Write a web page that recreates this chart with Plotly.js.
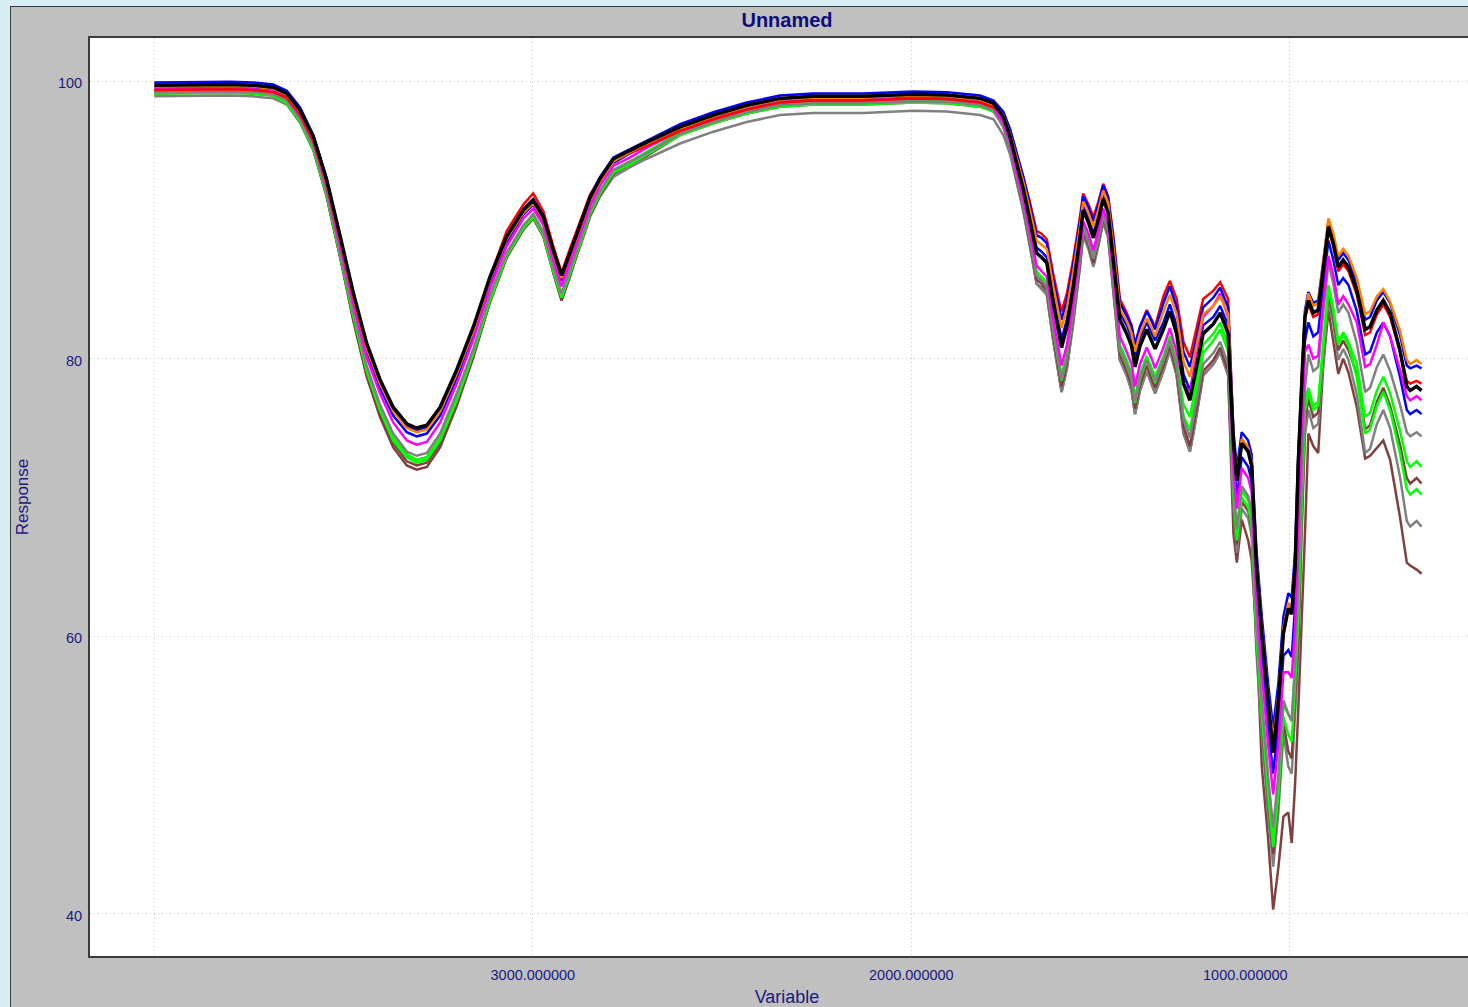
<!DOCTYPE html>
<html>
<head>
<meta charset="utf-8">
<title>Unnamed</title>
<script src="https://cdn.plot.ly/plotly-3.0.1.min.js"></script>
<style>
  html, body { margin: 0; padding: 0; overflow: hidden; background: #d7eef4; width: 1468px; height: 1007px; }
  #frame { position: absolute; left: 10px; top: 6px; border-left: 1px solid #3a3a3a; border-top: 1px solid #3a3a3a; }
  #chart { width: 1473px; height: 1000px; }
</style>
</head>
<body>
<div id="frame"><div id="chart"></div></div>
<script>
// Wavenumber grid (cm-1), shared by every spectrum
const wavenumber = [4000,3900,3800,3740,3686,3650,3615,3580,3545,3509,
  3474,3439,3404,3369,3333,3307,3280,3245,3201,3157,
  3113,3069,3025,2999,2972,2946,2924,2902,2867,2849,
  2822,2787,2743,2699,2611,2523,2435,2347,2259,2127,
  1995,1906,1818,1783,1757,1739,1722,1704,1687,1669,
  1656,1642,1625,1607,1603,1589,1572,1554,1546,1532,
  1519,1506,1493,1480,1466,1449,1431,1418,1409,1396,
  1378,1365,1356,1334,1317,1299,1281,1264,1251,1229,
  1202,1184,1163,1149,1140,1127,1110,1101,1088,1074,
  1057,1044,1030,1017,1004,995,986,978,969,960,
  951,938,925,912,898,885,872,859,845,823,
  801,788,770,753,735,709,691,682,665,652];

// Response of each sample (% transmittance)
const sampleBlack = [99.7,99.75,99.75,99.7,99.55,99.1,97.9,96.0,92.9,88.8,
  84.7,81.1,78.5,76.5,75.3,75.0,75.2,76.5,79.2,82.3,
  85.9,88.8,90.7,91.4,90.2,87.8,86.0,87.6,90.2,91.6,
  93.0,94.4,95.0,95.6,96.7,97.55,98.25,98.75,98.9,98.9,
  99.05,99.0,98.75,98.4,97.4,96.0,94.1,92.2,90.0,87.6,
  87.3,86.9,84.0,81.3,80.8,82.3,85.2,88.8,90.7,89.8,
  88.7,90.0,91.5,90.5,87.1,82.8,81.8,80.9,79.4,80.9,
  82.1,81.3,80.7,82.1,83.4,81.8,78.2,77.0,78.7,81.8,
  82.5,83.3,81.8,74.0,71.2,73.9,73.3,72.3,65.0,60.2,
  55.2,51.6,55.4,60.2,62.0,61.6,65.0,72.2,78.0,83.0,
  84.2,83.3,83.5,86.6,89.5,88.3,86.6,87.1,86.6,84.9,
  82.1,82.3,83.5,84.2,83.3,80.6,78.0,77.7,78.0,77.7];

const sampleOrange = [99.6,99.65,99.65,99.6,99.45,
  99.0,97.8,95.9,92.7,88.6,84.5,80.8,78.2,76.2,75.0,74.7,74.9,76.2,78.9,82.0,85.7,88.6,90.5,91.2,90.0,87.6,85.8,87.4,90.0,91.4,92.8,94.2,94.9,95.5,
  96.6,97.45,98.15,98.65,98.8,98.8,98.95,98.9,98.65,98.3,
  97.5,96.2,94.5,92.7,90.7,88.5,88.2,87.9,85.2,82.7,82.2,83.6,86.3,89.6,91.3,90.5,89.5,90.7,92.1,91.2,88.0,83.6,82.7,81.8,80.5,81.8,82.9,82.2,81.6,83.4,84.6,83.2,79.8,78.7,80.3,83.2,83.8,84.5,83.2,
  74.3,71.5,74.2,73.6,72.6,65.4,60.6,55.6,52.5,55.8,60.6,62.4,62.0,65.4,72.5,78.2,83.2,
  84.7,83.8,84.0,87.0,90.1,89.0,87.4,87.9,87.4,85.8,83.2,83.4,84.5,85.0,84.1,82.0,79.9,79.6,79.9,79.6];

const sampleBlue = [99.9,99.95,99.95,99.9,99.75,
  99.3,98.1,96.1,93.0,88.8,84.7,81.0,78.4,76.4,75.1,74.8,75.0,76.4,79.1,82.2,85.9,88.8,90.8,91.5,90.3,87.8,86.0,87.6,90.3,91.7,93.1,94.5,95.1,95.7,
  96.9,97.75,98.45,98.95,99.1,99.1,99.25,99.2,98.95,98.6,
  97.8,96.5,94.8,93.1,91.1,88.9,88.7,88.3,85.7,83.3,82.8,84.2,86.8,90.0,91.7,90.9,89.9,91.1,92.5,91.6,88.5,84.0,83.1,82.3,81.0,82.3,83.4,82.7,82.1,84.0,85.2,83.7,80.5,79.4,80.9,83.7,84.4,85.1,83.7,
  74.8,72.1,74.7,74.1,73.1,66.1,61.4,56.5,53.4,56.7,61.4,63.1,62.8,66.1,73.0,78.7,83.5,
  84.8,84.0,84.2,87.1,89.9,88.8,87.1,87.6,87.1,85.5,82.8,83.0,84.2,84.8,84.0,81.7,79.5,79.3,79.5,79.3];

const sampleRed = [99.35,99.4,99.4,99.35,99.2,
  98.8,97.6,95.7,92.6,88.5,84.4,80.8,78.3,76.3,75.1,74.8,75.0,76.3,79.0,82.1,85.9,89.2,91.1,91.9,90.6,88.1,86.2,87.9,90.5,91.8,93.0,94.3,94.8,95.35,
  96.4,97.25,97.95,98.45,98.6,98.6,98.75,98.7,98.45,98.1,
  97.7,96.5,94.8,93.2,91.3,89.2,89.0,88.6,86.1,83.8,83.4,84.7,87.2,90.3,91.9,91.1,90.2,91.3,92.6,91.7,88.8,84.3,83.3,82.4,81.0,82.3,83.5,82.8,82.3,84.5,85.6,84.3,81.2,80.1,81.6,84.3,84.9,85.5,84.3,
  74.3,71.5,74.2,73.6,72.6,65.0,60.2,55.2,52.0,55.4,60.2,62.0,61.6,65.0,72.2,78.0,83.0,
  83.9,83.0,83.2,86.3,89.3,88.1,86.3,86.8,86.3,84.6,81.7,81.9,83.2,83.9,83.0,80.5,78.4,78.2,78.4,78.2];

const sampleMagenta = [99.4,99.45,99.45,99.4,99.25,
  98.8,97.5,95.6,92.4,88.1,83.9,80.1,77.5,75.4,74.1,73.8,74.0,75.4,78.2,81.4,85.1,88.1,90.1,90.8,89.6,87.1,85.2,86.9,89.6,91.0,92.5,93.9,94.5,95.2,
  96.4,97.25,97.95,98.45,98.6,98.6,98.75,98.7,98.45,98.1,
  97.0,95.6,93.5,91.5,89.2,86.7,86.3,85.9,82.8,80.0,79.5,81.0,84.1,87.9,89.9,89.0,87.8,89.2,90.8,89.7,86.1,81.6,80.5,79.6,78.0,79.6,80.8,80.0,79.3,80.8,82.2,80.5,78.2,77.5,79.6,83.0,83.8,84.7,83.0,
  72.2,69.2,72.1,71.4,70.4,62.6,57.4,52.1,48.6,52.3,57.4,57.4,57.0,60.8,68.0,74.7,80.5,
  81.0,80.0,80.2,83.9,87.4,86.0,83.9,84.5,83.9,82.6,79.4,79.6,81.0,82.6,81.6,79.2,77.3,77.0,77.3,77.0];

const sampleBlue2 = [99.55,99.6,99.6,99.55,99.4,
  98.9,97.7,95.8,92.6,88.4,84.2,80.6,77.9,75.9,74.7,74.4,74.6,75.9,78.6,81.8,85.5,88.4,90.4,91.1,89.9,87.4,85.6,87.2,89.9,91.3,92.7,94.1,94.8,95.4,
  96.55,97.4,98.1,98.6,98.75,98.75,98.9,98.85,98.6,98.25,
  97.5,96.1,94.3,92.4,90.3,88.0,87.7,87.3,84.5,81.9,81.4,82.8,85.6,89.1,91.0,90.1,89.0,90.3,91.8,90.8,87.5,83.3,82.4,81.5,80.0,81.5,82.6,81.9,81.3,82.6,83.9,82.4,78.9,77.7,79.3,82.4,83.0,83.8,82.4,
  73.0,70.0,72.9,72.2,71.2,63.6,58.6,53.4,50.1,53.6,58.6,59.0,58.5,62.2,69.4,75.8,81.3,
  82.6,81.6,81.9,85.3,88.5,87.1,85.3,85.8,85.3,83.4,80.3,80.5,81.9,82.6,81.6,78.7,76.3,76.0,76.3,76.0];

const sampleGrey = [99.2,99.25,99.25,99.2,99.05,
  98.6,97.3,95.3,92.0,87.6,83.3,79.5,76.7,74.6,73.3,73.0,73.2,74.6,77.5,80.7,84.6,87.6,89.6,90.4,89.1,86.6,84.7,86.4,89.1,90.6,92.1,93.6,94.2,94.8,
  96.2,97.05,97.75,98.25,98.4,98.4,98.55,98.5,98.25,97.9,
  96.7,95.2,93.1,91.0,88.6,86.0,85.6,85.2,82.0,79.0,78.5,80.1,83.3,87.3,89.4,88.4,87.2,88.6,90.3,89.2,85.4,80.7,79.6,78.6,76.9,78.6,79.9,79.0,78.4,79.9,81.3,79.6,75.6,74.3,76.2,79.6,80.4,81.2,79.6,
  70.9,67.7,70.8,70.1,69.0,60.8,55.4,49.8,46.2,50.1,55.4,54.4,53.9,58.0,63.9,71.4,77.9,
  80.3,79.1,79.4,83.3,86.9,85.4,83.3,83.9,83.3,81.1,77.6,77.9,79.4,80.3,79.1,76.7,74.7,74.4,74.7,74.4];

const sampleGreen = [99.3,99.35,99.35,99.3,99.15,
  98.6,97.3,95.3,92.0,87.6,83.2,79.3,76.5,74.3,73.1,72.7,72.9,74.3,77.2,80.6,84.4,87.6,89.6,90.4,89.1,86.5,84.6,86.3,89.1,90.6,92.1,93.6,94.2,94.9,
  96.3,97.15,97.85,98.35,98.5,98.5,98.65,98.6,98.35,98.0,
  97.0,95.5,93.4,91.3,88.9,86.3,85.9,85.5,82.3,79.3,78.8,80.4,83.6,87.6,89.7,88.7,87.5,88.9,90.6,89.5,85.7,81.0,79.9,78.9,77.2,78.9,80.2,79.3,78.7,80.2,81.6,79.9,76.7,75.8,77.8,81.0,81.8,82.6,81.0,
  70.6,67.5,70.5,69.8,68.7,60.5,55.0,49.4,45.8,49.6,55.0,54.4,53.9,58.0,62.5,70.3,77.0,
  77.9,76.6,76.9,81.2,85.3,83.6,81.2,81.9,81.2,79.6,75.8,76.1,77.7,78.7,77.5,74.8,72.6,72.2,72.6,72.2];

const sampleBrown = [99.1,99.15,99.15,99.1,98.95,
  98.4,97.1,95.1,91.7,87.3,82.8,78.9,76.1,73.9,72.6,72.3,72.5,73.9,76.8,80.2,84.1,87.3,89.3,90.1,88.8,86.2,84.2,86.0,88.8,90.3,91.8,93.3,94.0,94.6,
  96.1,96.95,97.65,98.15,98.3,98.3,98.45,98.4,98.15,97.8,
  96.8,95.2,93.0,90.9,88.4,85.7,85.4,84.9,81.6,78.6,78.0,79.7,83.0,87.0,89.2,88.2,86.9,88.4,90.1,89.0,85.1,80.3,79.1,78.1,76.4,78.1,79.5,78.6,77.9,79.5,80.9,79.1,75.1,73.7,75.6,79.1,79.9,80.8,79.1,
  69.8,66.6,69.7,69.0,67.9,59.4,53.8,48.0,44.3,48.3,53.8,51.7,51.2,55.6,59.7,68.1,75.4,
  77.1,75.8,76.1,80.6,84.8,83.0,80.6,81.3,80.6,78.9,74.9,75.2,76.9,77.9,76.6,73.8,71.4,71.0,71.4,71.0];

const sampleGreen2 = [99.1,99.15,99.15,99.1,98.95,
  98.4,97.1,95.1,91.8,87.4,83.0,79.1,76.3,74.1,72.9,72.5,72.7,74.1,77.0,80.4,84.2,87.4,89.4,90.2,88.9,86.3,84.4,86.1,88.9,90.4,91.9,93.4,94.0,94.7,
  96.1,96.95,97.65,98.15,98.3,98.3,98.45,98.4,98.15,97.8,
  97.0,95.4,93.3,91.2,88.7,86.0,85.7,85.2,82.0,79.0,78.4,80.1,83.3,87.4,89.5,88.5,87.2,88.7,90.4,89.3,85.5,80.6,79.5,78.5,76.8,78.5,79.9,79.0,78.3,79.9,81.3,79.5,75.9,74.8,76.9,80.4,81.3,82.1,80.5,
  70.1,66.9,70.0,69.3,68.1,59.8,54.2,48.5,44.8,48.7,54.2,52.9,52.4,56.6,61.1,69.2,76.2,
  77.6,76.3,76.6,81.0,85.1,83.4,81.0,81.7,81.0,78.6,74.6,74.9,76.6,77.6,76.3,73.2,70.6,70.2,70.6,70.2];

const sampleGrey2 = [98.9,98.95,98.95,98.9,98.75,
  98.3,97.0,95.0,91.7,87.3,83.0,79.2,76.4,74.3,73.0,72.7,72.9,74.3,77.2,80.4,84.3,87.3,89.3,90.1,88.8,86.3,84.4,86.1,88.7,90.2,91.7,93.1,93.8,94.4,
  95.5,96.35,97.05,97.55,97.7,97.7,97.85,97.8,97.55,97.25,
  96.1,94.7,92.8,90.6,88.1,85.4,85.0,84.6,81.3,78.2,77.6,79.3,82.6,86.7,88.9,87.9,86.6,88.1,89.8,88.7,84.8,79.9,78.8,77.7,76.0,77.7,79.1,78.2,77.5,79.1,80.6,78.8,74.7,73.3,75.2,78.8,79.6,80.5,78.8,
  69.3,66.0,69.2,68.5,67.3,58.7,53.0,47.1,43.4,47.4,53.0,50.6,50.1,54.5,58.3,67.0,74.5,
  76.3,75.0,75.3,79.9,84.3,82.5,79.9,80.7,79.9,77.4,73.2,73.5,75.3,76.3,75.0,71.5,68.3,67.9,68.3,67.9];

const sampleBrown2 = [99.2,99.25,99.25,99.2,99.05,
  98.7,97.4,95.3,91.8,87.3,82.7,78.7,75.8,73.6,72.3,72.0,72.2,73.6,76.6,80.1,84.1,87.3,89.4,90.2,88.8,86.2,84.2,85.9,88.8,90.4,91.9,93.5,94.2,94.8,
  96.3,97.15,97.85,98.35,98.5,98.5,98.65,98.6,98.35,98.0,
  96.7,95.1,92.9,90.7,88.2,85.4,85.1,84.6,81.3,78.2,77.6,79.3,82.7,86.8,89.0,88.0,86.7,88.2,89.9,88.8,84.9,79.9,78.8,77.7,76.0,77.7,79.1,78.2,77.5,79.1,80.6,78.8,74.6,73.3,75.2,78.8,79.6,80.5,78.8,
  67.4,65.3,68.4,66.9,65.5,60.2,50.6,45.3,40.3,43.4,47.0,47.3,45.1,49.4,54.5,60.7,67.4,
  74.6,73.7,73.2,79.4,83.5,81.1,78.9,80.0,79.0,76.5,72.8,73.0,73.6,74.1,72.7,68.6,65.3,65.1,64.8,64.5];

// Axis ticks
const xTickVals = [4000, 3000, 2000, 1000];
const xTickText = ['', '3000.000000', '2000.000000', '1000.000000'];
const yTickVals = [40, 60, 80, 100];
const yTickText = ['40', '60', '80', '100'];

// Draw order: lowest curves first, black on top
const series = [
  { y: sampleBrown2,  color: '#804040' },
  { y: sampleGrey2,   color: '#808080' },
  { y: sampleBrown,   color: '#804040' },
  { y: sampleGreen2,  color: '#00ff00' },
  { y: sampleGreen,   color: '#00ff00' },
  { y: sampleGrey,    color: '#808080' },
  { y: sampleBlue2,   color: '#0000ff' },
  { y: sampleMagenta, color: '#ff00ff' },
  { y: sampleRed,     color: '#ff0000' },
  { y: sampleBlue,    color: '#0000ff' },
  { y: sampleOrange,  color: '#ff8000' },
  { y: sampleBlack,   color: '#000000', width: 3.5 }
];

const traces = series.map(s => ({
  type: 'scatter',
  mode: 'lines',
  x: wavenumber,
  y: s.y,
  line: { color: s.color, width: s.width || 2.5 },
  hoverinfo: 'skip'
}));

const textColor = '#1a1a80';
const fontFamily = 'Liberation Sans, Arial, sans-serif';
const tickFont = { family: fontFamily, size: 14.5, color: textColor };

// The rightmost x label sits to the left of its grid line
const lastX = xTickVals.length - 1;

const layout = {
  width: 1473,
  height: 1000,
  margin: { l: 79, r: 0, t: 31, b: 51 },
  paper_bgcolor: '#c0c0c0',
  plot_bgcolor: '#ffffff',
  showlegend: false,
  title: {
    text: 'Unnamed',
    font: { family: fontFamily, size: 20, color: '#0c0c7a', weight: 'bold' },
    x: 0.5, xref: 'paper',
    y: 0.987, yref: 'container', yanchor: 'middle'
  },
  xaxis: {
    range: [4170, 487],
    tickvals: xTickVals,
    ticktext: xTickText.map((t, i) => (i === lastX ? '' : t)),
    tickfont: tickFont,
    ticks: '',
    ticklabelstandoff: 5,
    showgrid: true,
    gridcolor: '#c8c8c8',
    griddash: '1px,3px',
    gridwidth: 1,
    zeroline: false,
    showline: true,
    linecolor: '#3c3c3c',
    linewidth: 2,
    mirror: true,
    title: { text: 'Variable', font: { family: fontFamily, size: 18, color: textColor }, standoff: 9 }
  },
  yaxis: {
    range: [36.96, 103.1],
    tickvals: yTickVals,
    ticktext: yTickText,
    tickfont: tickFont,
    ticks: '',
    ticklabelstandoff: 3,
    ticklabelshift: 2,
    showgrid: true,
    gridcolor: '#c8c8c8',
    griddash: '1px,3px',
    gridwidth: 1,
    zeroline: false,
    showline: true,
    linecolor: '#3c3c3c',
    linewidth: 2,
    title: { text: 'Response', font: { family: fontFamily, size: 17, color: textColor }, standoff: 25 }
  },
  annotations: [{
    x: xTickVals[lastX], xref: 'x',
    y: 0, yref: 'paper',
    xanchor: 'right', yanchor: 'top',
    yshift: -9,
    text: xTickText[lastX],
    showarrow: false,
    font: tickFont
  }]
};

Plotly.newPlot('chart', traces, layout, { staticPlot: true, displayModeBar: false });
</script>
</body>
</html>
